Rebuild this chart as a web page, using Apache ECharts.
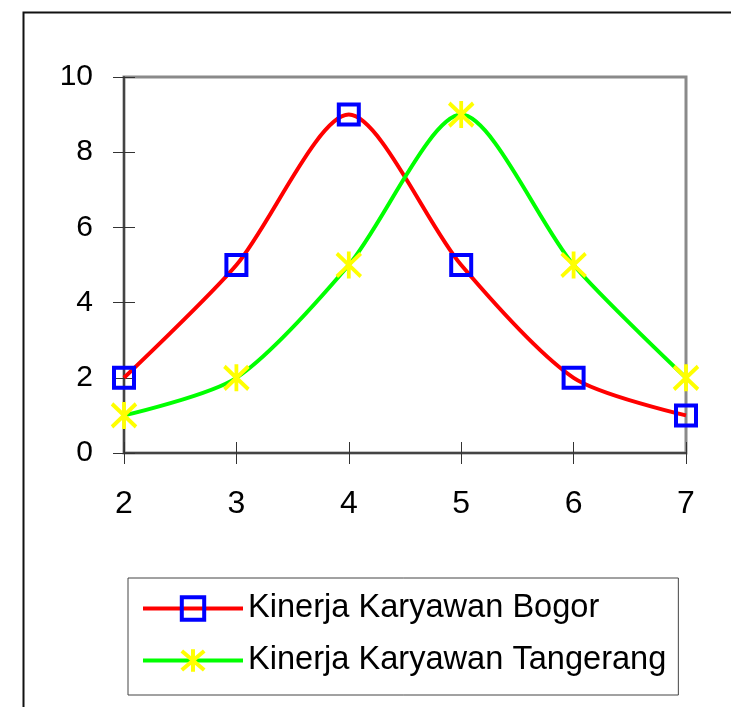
<!DOCTYPE html>
<html>
<head>
<meta charset="utf-8">
<script src="https://cdn.jsdelivr.net/npm/echarts@6/dist/echarts.min.js"></script>
<style>
html,body{margin:0;padding:0;background:#fff;}
#c{width:731px;height:707px;}
</style>
</head>
<body>
<div id="c"></div>
<script>
var xValues = [2, 3, 4, 5, 6, 7];
var bogor = [2, 5, 9, 5, 2, 1];
var tangerang = [1, 2, 5, 9, 5, 2];
var seriesNames = ['Kinerja Karyawan Bogor', 'Kinerja Karyawan Tangerang'];
var yTicks = [0, 2, 4, 6, 8, 10];

function pairs(xs, ys) { return xs.map(function (x, i) { return [x, ys[i]]; }); }

var chart = echarts.init(document.getElementById('c'));
var font = 'Liberation Sans, Arial, sans-serif';
var starPath = 'path://M12,0L12,27M0,2L24,25M0,25L24,2';

var baseX = {
  type: 'value', min: 2, max: 7, interval: 1,
  splitLine: { show: false },
  axisLine: { show: false, onZero: false }
};
var baseY = {
  type: 'value', min: 0, max: 10, interval: 2,
  splitLine: { show: false },
  axisLine: { show: false, onZero: false }
};

chart.setOption({
  animation: false,
  backgroundColor: '#fff',
  graphic: [{
    type: 'rect', left: 21, top: 10, shape: { width: 900, height: 900 },
    style: { fill: 'none', stroke: '#111', lineWidth: 2 }, silent: true, z: -1
  }],
  grid: {
    left: 124, top: 77, width: 562, height: 376,
    show: true, borderColor: '#8a8a8a', borderWidth: 3, backgroundColor: 'transparent'
  },
  xAxis: [
    Object.assign({}, baseX, {
      position: 'bottom',
      axisLine: { show: true, onZero: false, lineStyle: { color: '#444', width: 2 } },
      axisTick: { show: true, length: 11, lineStyle: { color: '#333', width: 1 } },
      axisLabel: { show: true, margin: 35, fontSize: 32, color: '#000', fontFamily: font,
        formatter: function (v) { return xValues.indexOf(v) >= 0 ? String(v) : ''; } }
    }),
    Object.assign({}, baseX, {
      position: 'bottom', gridIndex: 0,
      axisTick: { show: true, inside: true, length: 11, lineStyle: { color: '#333', width: 1 } },
      axisLabel: { show: false }
    })
  ],
  yAxis: [
    Object.assign({}, baseY, {
      position: 'left',
      axisLine: { show: true, onZero: false, lineStyle: { color: '#444', width: 2 } },
      axisTick: { show: true, length: 11, lineStyle: { color: '#333', width: 1 } },
      axisLabel: { show: true, margin: 31, fontSize: 30, color: '#000', fontFamily: font,
        formatter: function (v) { return yTicks.indexOf(v) >= 0 ? String(v) : ''; } }
    }),
    Object.assign({}, baseY, {
      position: 'left', gridIndex: 0,
      axisTick: { show: true, inside: true, length: 11, lineStyle: { color: '#333', width: 1 } },
      axisLabel: { show: false }
    })
  ],
  legend: {
    left: 128, top: 578,
    orient: 'vertical',
    itemWidth: 100, itemHeight: 28, itemGap: 19,
    padding: [14, 12, 18, 13],
    borderColor: '#444', borderWidth: 1,
    textStyle: { fontSize: 32.6, color: '#000', fontFamily: font },
    data: [
      { name: seriesNames[0], lineStyle: { color: '#ff0000', width: 4 },
        itemStyle: { color: 'rgba(0,0,0,0)', borderColor: '#0000ff', borderWidth: 4 } },
      { name: seriesNames[1], lineStyle: { color: '#00ff00', width: 4 },
        itemStyle: { color: 'rgba(0,0,0,0)', borderColor: '#ffff00', borderWidth: 4 } }
    ]
  },
  series: [
    {
      name: seriesNames[0], type: 'line', xAxisIndex: 0, yAxisIndex: 0,
      data: pairs(xValues, bogor),
      smooth: 0.27,
      symbol: 'rect', symbolSize: 20,
      lineStyle: { color: '#ff0000', width: 4 },
      itemStyle: { color: 'rgba(0,0,0,0)', borderColor: '#0000ff', borderWidth: 4 },
      z: 2
    },
    {
      name: seriesNames[1], type: 'line', xAxisIndex: 0, yAxisIndex: 0,
      data: pairs(xValues, tangerang),
      smooth: 0.27,
      symbol: starPath, symbolSize: [24, 27],
      lineStyle: { color: '#00ff00', width: 4 },
      itemStyle: { color: 'rgba(0,0,0,0)', borderColor: '#ffff00', borderWidth: 4 },
      z: 3
    }
  ]
});
</script>
</body>
</html>
